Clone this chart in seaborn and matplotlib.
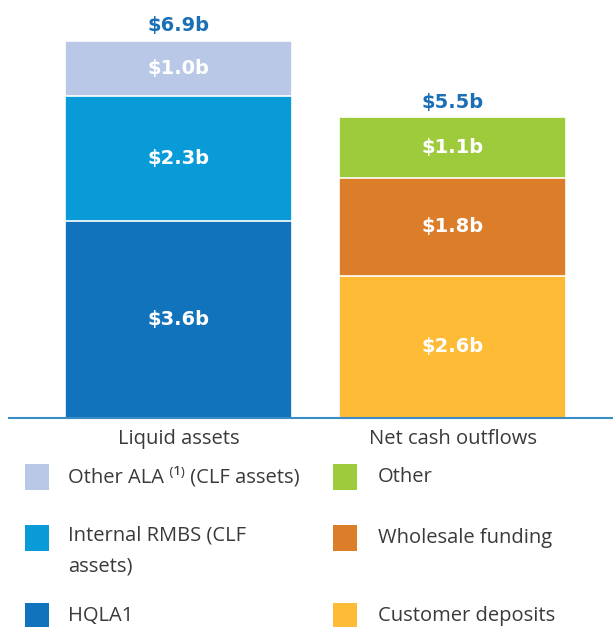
"""
Liquidity coverage: liquid assets vs net cash outflows as two stacked bars.
"""

import matplotlib.pyplot as plt
import seaborn as sns
from matplotlib.patches import Rectangle

# data ($b)
categories = ["Liquid assets", "Net cash outflows"]
seg_names = [["HQLA1", "Internal RMBS (CLF\nassets)", "Other ALA \u207d\u00b9\u207e (CLF assets)"],
             ["Customer deposits", "Wholesale funding", "Other"]]
liquid_vals = [3.6, 2.3, 1.0]
outflow_vals = [2.6, 1.8, 1.1]
totals = [6.9, 5.5]

liquid_colors = ["#1173bb", "#089bd8", "#b9c8e6"]
outflow_colors = ["#fdbb36", "#dc7d29", "#9ecb3b"]

W, H = 613, 627
TEXT = "#3a3a3a"
BLUE = "#1a6fb5"

sns.set_theme(style="white")
plt.rcParams["font.family"] = ["Open Sans", "DejaVu Sans"]

fig = plt.figure(figsize=(W / 100, H / 100), dpi=100)
ax = fig.add_axes([9 / W, (H - 418) / H, 604 / W, 418 / H])

# cumulative tops, drawn largest first so the smaller ones sit on top
cum_l = [sum(liquid_vals[:i + 1]) for i in range(3)]
cum_o = [sum(outflow_vals[:i + 1]) for i in range(3)]
for i in reversed(range(3)):
    sns.barplot(x=categories, y=[cum_l[i], cum_o[i]], hue=categories,
                palette=[liquid_colors[i], outflow_colors[i]], legend=False,
                saturation=1, width=0.827, edgecolor="white", linewidth=1.2, ax=ax)

lab_font = dict(family=["Liberation Sans Narrow", "DejaVu Sans"], weight="bold", fontsize=14)
for j, (vals, cum) in enumerate([(liquid_vals, cum_l), (outflow_vals, cum_o)]):
    for v, c in zip(vals, cum):
        ax.text(j, c - v / 2, f"${v:.1f}b", ha="center", va="center",
                color="white", **lab_font)
    ax.annotate(f"${totals[j]:.1f}b", (j, totals[j]), xytext=(0, 4),
                textcoords="offset points", ha="center", va="bottom",
                color=BLUE, **lab_font)

ax.set_xlim(-0.617, 1.583)
ax.set_ylim(0, 7.65)
ax.set_yticks([])
ax.set_ylabel("")
ax.tick_params(axis="x", length=0, pad=8, labelsize=14.5, labelcolor=TEXT)
for s in ["top", "left", "right"]:
    ax.spines[s].set_visible(False)
ax.spines["bottom"].set_color("#3a8cc4")
ax.spines["bottom"].set_linewidth(1.5)

# legend drawn by hand in pixel positions
rows_y = [477, 538, 616]
cols = [(25, 68, seg_names[0][::-1], liquid_colors[::-1]),
        (333, 378, seg_names[1][::-1], outflow_colors[::-1])]
for sq_x, tx_x, names, colors in cols:
    for y, name, col in zip(rows_y, names, colors):
        fig.add_artist(Rectangle((sq_x / W, (H - y - 13) / H), 24 / W, 26 / H,
                                 transform=fig.transFigure, color=col, lw=0))
        if "\n" in name:
            fig.text(tx_x / W, (H - y + 13) / H, name, ha="left", va="top",
                     fontsize=14.5, color=TEXT, linespacing=1.78)
        else:
            fig.text(tx_x / W, (H - y) / H, name, ha="left", va="center",
                     fontsize=14.5, color=TEXT)

fig.savefig("out.png", dpi=100)
